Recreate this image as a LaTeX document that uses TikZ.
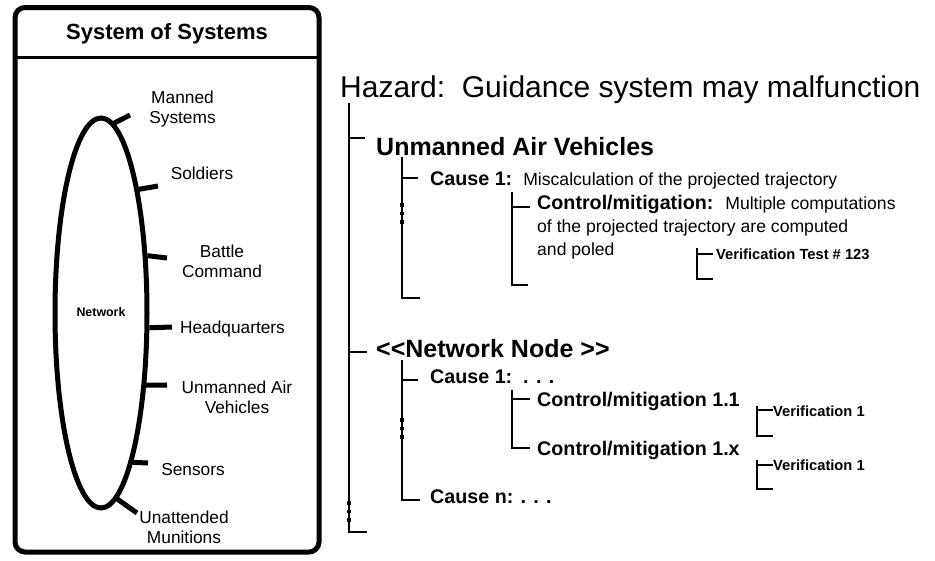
\documentclass[tikz,border=0pt]{standalone}
\usepackage{fontspec}
\setmainfont{Liberation Sans}
\usetikzlibrary{shapes.geometric}
\tikzset{
  lbl/.style={font=\fontsize{17.3}{20}\selectfont, align=center, inner sep=0pt, anchor=base},
  tick/.style={line width=5pt},
  tree/.style={line width=1.1pt},
  head/.style={font=\fontsize{25}{28}\selectfont\bfseries, inner sep=0pt, anchor=base west},
  causet/.style={font=\fontsize{19.7}{22.5}\selectfont, inner sep=0pt, anchor=base west, align=left},
  verif/.style={font=\fontsize{14.7}{17}\selectfont\bfseries, inner sep=0pt, anchor=base west},
  dotm/.style={fill=black},
}
\begin{document}
\begin{tikzpicture}[x=1pt,y=-1pt]
\useasboundingbox (0,0) rectangle (935,560);
% system of systems box
\draw[line width=5pt, rounded corners=10pt] (15,7.5) rectangle (319,552);
\draw[line width=3pt] (15,57) -- (319,57);
\node[font=\fontsize{22}{26}\selectfont\bfseries, inner sep=0pt, anchor=base] (title) at (167,39) {System of Systems};
% network ellipse
\node[ellipse, draw, line width=5pt, minimum width=92pt, minimum height=390pt, inner sep=0pt] (net) at (101,313) {};
\node[font=\fontsize{12.4}{14}\selectfont\bfseries, inner sep=0pt, anchor=base] (netl) at (101,316) {Network};
% labels (multi-line nodes: base = last line)
\node[lbl] (l1) at (182.5,123) {Manned\\Systems};
\node[lbl] (l2) at (202,179) {Soldiers};
\node[lbl] (l3) at (222,277) {Battle\\Command};
\node[lbl] (l4) at (232.5,333) {Headquarters};
\node[lbl] (l5) at (237,413) {Unmanned Air\\Vehicles};
\node[lbl] (l6) at (193,475) {Sensors};
\node[lbl] (l7) at (184,543) {Unattended\\Munitions};
% ticks
\coordinate (k1) at (130,115);
\coordinate (k2) at (158,186);
\coordinate (k3) at (167,258);
\coordinate (k4) at (172,327);
\coordinate (k5) at (167,385);
\coordinate (k6) at (148,463);
\coordinate (k7) at (137,513);
\draw[tick] (net.86) -- (k1);
\draw[tick] (net.73) -- (k2);
\draw[tick] (net.51) -- (k3);
\draw[tick] (net.-17) -- (k4);
\draw[tick] (net.-58) -- (k5);
\draw[tick] (net.-78) -- (k6);
\draw[tick] (net.-85) -- (k7);
% right side texts
\node[font=\fontsize{30}{34}\selectfont, inner sep=0pt, anchor=base west] (haz) at (340,97) {Hazard:\ \ Guidance system may malfunction};
\node[head] (uav) at (376,155) {Unmanned Air Vehicles};
\node[causet] (c1) at (430,185) {\textbf{Cause 1:}\hspace{11pt}{\fontsize{17.6}{20}\selectfont Miscalculation of the projected trajectory}};
\node[causet] (cm) at (537,255) {\textbf{Control/mitigation:}\hspace{12pt}{\fontsize{17.6}{20}\selectfont Multiple computations}\\[0.5pt]{\fontsize{17.6}{20}\selectfont of the projected trajectory are computed}\\[0.5pt]{\fontsize{17.6}{20}\selectfont and poled}};
\node[verif] (vt) at (716,259) {Verification Test \# 123};
\node[head] (nn) at (376,357) {{<}{<}Network Node {>}{>}};
\node[causet, font=\fontsize{19.7}{22.5}\selectfont\bfseries] (c2) at (430,383) {Cause 1:\ \ . . .};
\node[causet, font=\fontsize{19.7}{22.5}\selectfont\bfseries] (m11) at (537,406) {Control/mitigation 1.1};
\node[causet, font=\fontsize{19.7}{22.5}\selectfont\bfseries] (m1x) at (537,455) {Control/mitigation 1.x};
\node[verif] (v1) at (773,416) {Verification 1};
\node[verif] (v2) at (773,470) {Verification 1};
\node[causet, font=\fontsize{19.7}{22.5}\selectfont\bfseries] (cn) at (430,503) {Cause n: . . .};
% tree level 1
\coordinate (a1) at (349,103);
\coordinate (a2) at (349,532);
\draw[tree] (a1) -- (a2) -- ++(18,0);
\draw[tree] (349,138) -- (365,138);
\draw[tree] (349,352) -- (367,352);
\foreach \yy in {503,511.5,520} \fill[dotm] (347.2,\yy-1.8) rectangle ++(3.6,3.6);
% tree level 2 (UAV)
\coordinate (c1t) at (402,157);
\coordinate (c1b) at (402,298);
\draw[tree] (c1t) -- (c1b) -- ++(18,0);
\draw[tree] (402,178) -- (418,178);
\foreach \yy in {205,213.5,222} \fill[dotm] (400.2,\yy-1.8) rectangle ++(3.6,3.6);
% level 3 (UAV)
\coordinate (d1t) at (512,192);
\coordinate (d1b) at (512,285);
\draw[tree] (d1t) -- (d1b) -- ++(16,0);
\draw[tree] (512,207) -- (530,207);
% verification UAV
\coordinate (e1t) at (697,248);
\coordinate (e1b) at (697,279);
\draw[tree] (e1t) -- (e1b) -- ++(16,0);
\draw[tree] (697,254) -- (713,254);
% tree level 2 (network node)
\coordinate (c2t) at (402,360);
\coordinate (c2b) at (402,500);
\draw[tree] (c2t) -- (c2b) -- (420,500);
\draw[tree] (402,380) -- (418,380);
\foreach \yy in {420,428.5,437} \fill[dotm] (400.2,\yy-1.8) rectangle ++(3.6,3.6);
% level 3 (network node)
\coordinate (d2t) at (512,390);
\coordinate (d2b) at (512,448);
\draw[tree] (d2t) -- (d2b) -- (530,448);
\draw[tree] (512,399) -- (530,399);
% verifications network node
\draw[tree] (757,406) -- (757,436) -- (773,436);
\draw[tree] (757,410) -- (773,410);
\draw[tree] (757,460) -- (757,489) -- (773,489);
\draw[tree] (757,465) -- (773,465);
\end{tikzpicture}
\end{document}
